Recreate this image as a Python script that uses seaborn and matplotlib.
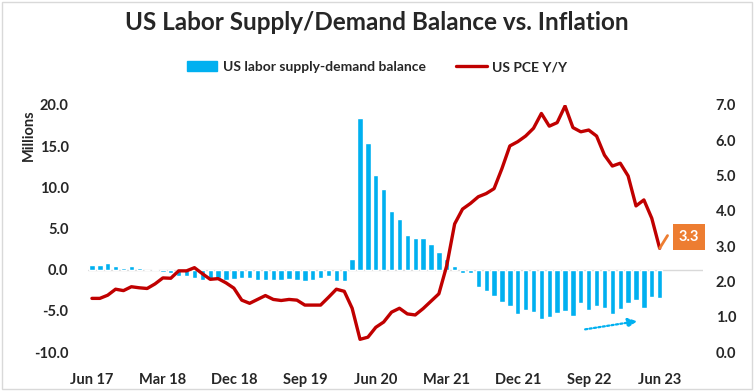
import numpy as np
import pandas as pd
import matplotlib
matplotlib.use("Agg")
import matplotlib.pyplot as plt
from matplotlib.patches import Patch, Rectangle
from matplotlib.lines import Line2D
import seaborn as sns

sns.set_theme(style="white")
plt.rcParams['font.family'] = ['Lato', 'DejaVu Sans']

# Monthly data, Jun 2017 - Jun 2023
months = pd.date_range("2017-06-01", "2023-06-01", freq="MS").strftime("%b %y").tolist()

# US labor supply-demand balance (millions)
balance = [0.6, 0.6, 0.8, 0.4, 0.2, 0.4, 0.2, 0.0, 0.1, -0.3,
           -0.4, -0.8, -0.8, -1.0, -1.2, -1.1, -1.0, -1.2, -1.1, -1.0,
           -1.0, -1.2, -1.3, -1.3, -1.2, -1.1, -1.2, -1.4, -1.3, -1.0,
           -0.8, -1.4, -1.4, 1.3, 18.4, 15.4, 11.5, 9.8, 7.1, 6.1,
           4.2, 3.9, 3.9, 3.1, 2.2, 1.3, 0.5, -0.4, -0.4, -2.1,
           -2.6, -3.2, -3.9, -4.4, -5.4, -4.9, -5.2, -6.0, -5.7, -5.3,
           -5.0, -5.6, -4.1, -4.9, -4.4, -4.6, -5.4, -4.8, -4.0, -3.7,
           -4.6, -3.3, -3.5]

# US PCE Y/Y (%)
pce = [1.52, 1.52, 1.61, 1.78, 1.74, 1.85, 1.82, 1.80, 1.93, 2.10,
       2.09, 2.30, 2.30, 2.39, 2.22, 2.06, 2.08, 1.96, 1.81, 1.47,
       1.38, 1.49, 1.60, 1.49, 1.46, 1.49, 1.47, 1.33, 1.33, 1.33,
       1.55, 1.78, 1.72, 1.24, 0.36, 0.42, 0.70, 0.85, 1.13, 1.24,
       1.08, 1.05, 1.23, 1.44, 1.65, 2.45, 3.63, 4.05, 4.21, 4.40,
       4.49, 4.63, 5.20, 5.84, 5.96, 6.12, 6.34, 6.76, 6.40, 6.50,
       6.97, 6.36, 6.24, 6.29, 6.12, 5.58, 5.27, 5.35, 4.99, 4.14,
       4.31, 3.79, 2.94]

latest_pce = 3.3
tick_every = 9

BLUE = '#00B0F0'
RED = '#C00000'
ORANGE = '#ED7D31'

idx = np.arange(len(months))

fig = plt.figure(figsize=(7.54, 3.91), dpi=100)
ax = fig.add_axes([0.1167, 0.0997, 0.8157, 0.6318])

ax.axhline(0, color='#D9D9D9', lw=1, zorder=0)
sns.barplot(x=idx, y=balance, color=BLUE, saturation=1, width=0.68,
            errorbar=None, ax=ax, zorder=2)

ax2 = ax.twinx()
sns.lineplot(x=idx, y=pce, color=RED, lw=2.4, ax=ax2)
# projection to the latest print
sns.lineplot(x=[idx[-1], idx[-1] + 1], y=[pce[-1], latest_pce], color=ORANGE, lw=2, ax=ax2)
ax2.text(idx[-1] + 3.7, latest_pce - 0.04, f"{latest_pce:.1f}", color='white', fontsize=10.5,
         fontweight='bold', ha='center', va='center',
         bbox=dict(boxstyle='square,pad=0.4', fc=ORANGE, ec='none'))

# dotted trend arrow under the bars
ax.annotate('', xy=(69.5, -6.2), xytext=(62.2, -7.3),
            arrowprops=dict(arrowstyle='-|>,head_length=0.45,head_width=0.22',
                            linestyle=(0, (1, 1)), color=BLUE, lw=1.6))

ax.set_ylim(-10, 20)
ax.set_yticks(np.arange(-10, 21, 5))
ax.set_yticklabels([f"{v:.1f}" for v in np.arange(-10, 21, 5)])
ax2.set_ylim(0, 7)
ax2.set_yticks(np.arange(0, 8, 1))
ax2.set_yticklabels([f"{v:.1f}" for v in np.arange(0, 8, 1)])

ticks = idx[::tick_every]
ax.set_xticks(ticks)
ax.set_xticklabels([months[i] for i in ticks])
ax.set_xlim(-0.5, 77.5)

for a in (ax, ax2):
    for s in a.spines.values():
        s.set_visible(False)
    a.set_xlabel('')
    a.set_ylabel('')
    a.grid(False)
    for lab in a.get_xticklabels() + a.get_yticklabels():
        lab.set_fontweight('bold')
        lab.set_fontsize(10.5)
ax.tick_params(axis='x', length=0, pad=15)
ax.tick_params(axis='y', length=0, pad=14)
ax2.tick_params(axis='y', length=0, pad=9)

fig.text(0.038, 1 - 135 / 391, 'Millions', rotation=90, ha='center', va='center',
         fontsize=10.5, fontweight='bold')

fig.text(0.5, 1 - 23 / 391, 'US Labor Supply/Demand Balance vs. Inflation',
         ha='center', va='center', fontsize=17.5, fontweight='bold')

handles = [Patch(color=BLUE, label='US labor supply-demand balance'),
           Line2D([0], [0], color=RED, lw=2.4, label='US PCE Y/Y')]
fig.legend(handles=handles, loc='center', bbox_to_anchor=(0.5, 1 - 67 / 391), ncol=2,
           frameon=False, prop={'weight': 'bold', 'size': 10},
           handlelength=2.2, columnspacing=2.2, handletextpad=0.4)

fig.patches.append(Rectangle((0.002, 0.006), 0.995, 0.99, transform=fig.transFigure,
                             fill=False, ec='#D9D9D9', lw=1))

fig.savefig('out.png', dpi=100)
